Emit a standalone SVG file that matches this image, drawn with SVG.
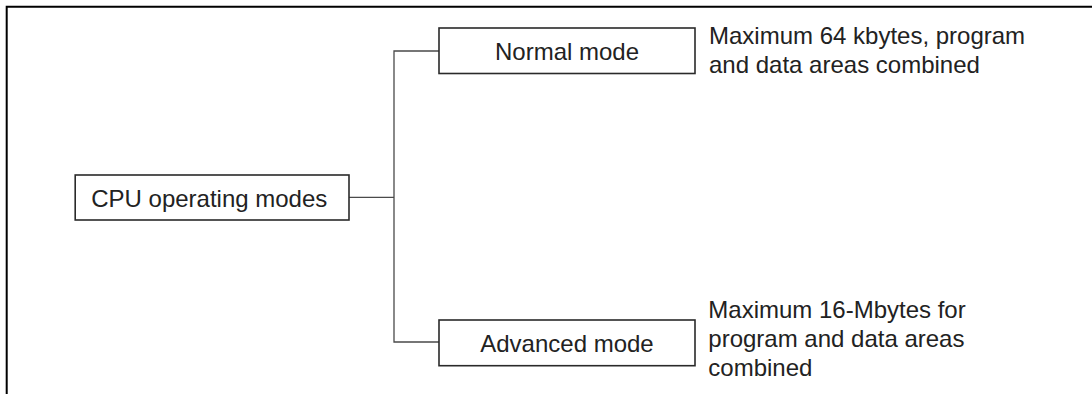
<svg xmlns="http://www.w3.org/2000/svg" width="1092" height="394" viewBox="0 0 1092 394">
<style>
.frame{fill:none;stroke:#000;stroke-width:2}
.box{fill:#fff;stroke:#2a2a2a;stroke-width:1.6}
.conn{fill:none;stroke:#4a4a4a;stroke-width:1.3}
text{font-family:"Liberation Sans",Arial,sans-serif;font-size:24px;fill:#222}
.c{text-anchor:middle}
</style>
<rect width="1092" height="394" fill="#fff"/>
<path class="frame" d="M6.7,394 V6.7 H1092"/>
<g id="connectors">
<path class="conn" d="M349,197.3 H394"/>
<path class="conn" d="M439,51 H394 V342 H439"/>
</g>
<g id="cpu-modes">
<rect class="box" x="75.2" y="175" width="273.8" height="45"/>
<text x="91.2" y="206.7">CPU operating modes</text>
</g>
<g id="normal-mode">
<rect class="box" x="439" y="28" width="256" height="45.5"/>
<text class="c" x="567" y="59.5">Normal mode</text>
</g>
<g id="advanced-mode">
<rect class="box" x="439" y="320" width="256" height="45.7"/>
<text class="c" x="567" y="351.5">Advanced mode</text>
</g>
<g id="normal-desc">
<text x="709" y="43.7">Maximum 64 kbytes, program</text>
<text x="709" y="73.3">and data areas combined</text>
</g>
<g id="advanced-desc">
<text x="708.3" y="317.7">Maximum 16-Mbytes for</text>
<text x="708.3" y="346.7">program and data areas</text>
<text x="708.3" y="375.5">combined</text>
</g>
</svg>
